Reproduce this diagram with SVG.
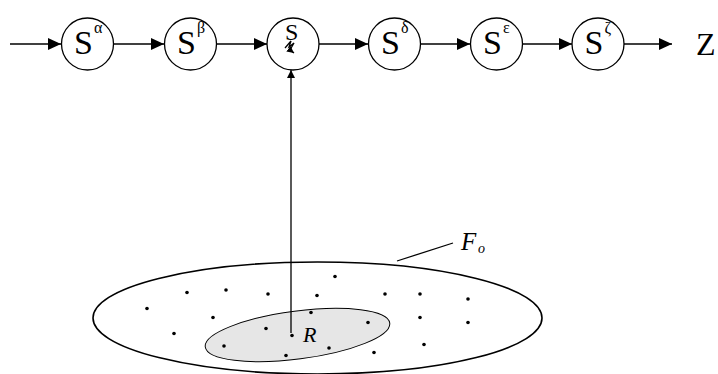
<svg xmlns="http://www.w3.org/2000/svg" width="718" height="374" viewBox="0 0 718 374">
<defs>
<marker id="ah" markerWidth="13" markerHeight="12" refX="13" refY="6" orient="auto" markerUnits="userSpaceOnUse"><path d="M0,0 L13,6 L0,12 Z" fill="#000"/></marker>
<marker id="ahs" markerWidth="8" markerHeight="8" refX="8" refY="4" orient="auto" markerUnits="userSpaceOnUse"><path d="M0,0 L8,4 L0,8 Z" fill="#000"/></marker>
<marker id="ahz" markerWidth="7" markerHeight="7" refX="7" refY="3.5" orient="auto" markerUnits="userSpaceOnUse"><path d="M0,0 L7,3.5 L0,7 Z" fill="#000"/></marker>
</defs>
<style>
.st{fill:#fff;stroke:#000;stroke-width:1.3}
.ln{stroke:#000;stroke-width:1.3;fill:none}
.dot{fill:#000}
text{font-family:Liberation Serif, DejaVu Serif, serif;fill:#000}
</style>
<g id="field">
<ellipse cx="317.5" cy="318" rx="224.5" ry="56" fill="#fff" stroke="#000" stroke-width="1.6"/>
<ellipse cx="297.5" cy="335" rx="93" ry="24" transform="rotate(-7.4 297.5 335)" fill="#e6e6e6" stroke="#000" stroke-width="1"/>
<g class="dot">
<circle cx="335" cy="276.5" r="1.8"/><circle cx="187" cy="292.5" r="1.8"/><circle cx="226" cy="290" r="1.8"/><circle cx="268" cy="294" r="1.8"/><circle cx="317" cy="295.5" r="1.8"/><circle cx="385" cy="294" r="1.8"/><circle cx="420" cy="294" r="1.8"/><circle cx="468" cy="299" r="1.8"/><circle cx="147" cy="308.5" r="1.8"/><circle cx="213" cy="317.5" r="1.8"/><circle cx="311" cy="312.5" r="1.8"/><circle cx="420" cy="317.5" r="1.8"/><circle cx="468" cy="322.5" r="1.8"/><circle cx="174" cy="333.5" r="1.8"/><circle cx="266" cy="328.5" r="1.8"/><circle cx="292" cy="335.5" r="1.8"/><circle cx="368" cy="322.5" r="1.8"/><circle cx="224" cy="346" r="1.8"/><circle cx="329" cy="348" r="1.8"/><circle cx="286" cy="355.5" r="1.8"/><circle cx="374" cy="352.5" r="1.8"/><circle cx="424" cy="344.5" r="1.8"/>
</g>
<text x="303" y="342" font-style="italic" font-size="22">R</text>
<text x="461" y="250" font-style="italic" font-size="25">F</text>
<text x="478" y="253" font-style="italic" font-size="14">o</text>
</g>
<g id="connectors">
<line class="ln" x1="10" y1="44" x2="61" y2="44" marker-end="url(#ah)"/>
<line class="ln" x1="114" y1="44" x2="164" y2="44" marker-end="url(#ah)"/>
<line class="ln" x1="217" y1="44" x2="267" y2="44" marker-end="url(#ah)"/>
<line class="ln" x1="319" y1="44" x2="368" y2="44" marker-end="url(#ah)"/>
<line class="ln" x1="421" y1="44" x2="470" y2="44" marker-end="url(#ah)"/>
<line class="ln" x1="523" y1="44" x2="572" y2="44" marker-end="url(#ah)"/>
<line class="ln" x1="624" y1="44" x2="672" y2="44" marker-end="url(#ah)"/>
<line class="ln" x1="291" y1="333" x2="291" y2="70" marker-end="url(#ahs)"/>
<line class="ln" x1="397" y1="261" x2="453" y2="243"/>
</g>
<g id="s-alpha"><circle class="st" cx="87.5" cy="44" r="26"/><text font-size="34" x="74" y="54">S</text><text font-size="16" x="94" y="33">α</text></g>
<g id="s-beta"><circle class="st" cx="190.5" cy="44" r="26"/><text font-size="34" x="177" y="54">S</text><text font-size="16" x="197" y="33">β</text></g>
<g id="s-gamma"><circle class="st" cx="293" cy="44" r="26"/><text font-size="24" x="285" y="40">S</text>
<path class="ln" d="M285,48 L291,41 L289,47 L294,43 L290,50 L294,53" stroke-width="1.2" marker-end="url(#ahz)"/></g>
<g id="s-delta"><circle class="st" cx="394.5" cy="44" r="26"/><text font-size="34" x="381" y="54">S</text><text font-size="16" x="401" y="33">δ</text></g>
<g id="s-epsilon"><circle class="st" cx="496.5" cy="44" r="26"/><text font-size="34" x="483" y="54">S</text><text font-size="16" x="503" y="33">ε</text></g>
<g id="s-zeta"><circle class="st" cx="598" cy="44" r="26"/><text font-size="34" x="584.5" y="54">S</text><text font-size="16" x="604.5" y="33">ζ</text></g>
<g id="z"><text font-size="32" x="696" y="55">Z</text></g>
</svg>
